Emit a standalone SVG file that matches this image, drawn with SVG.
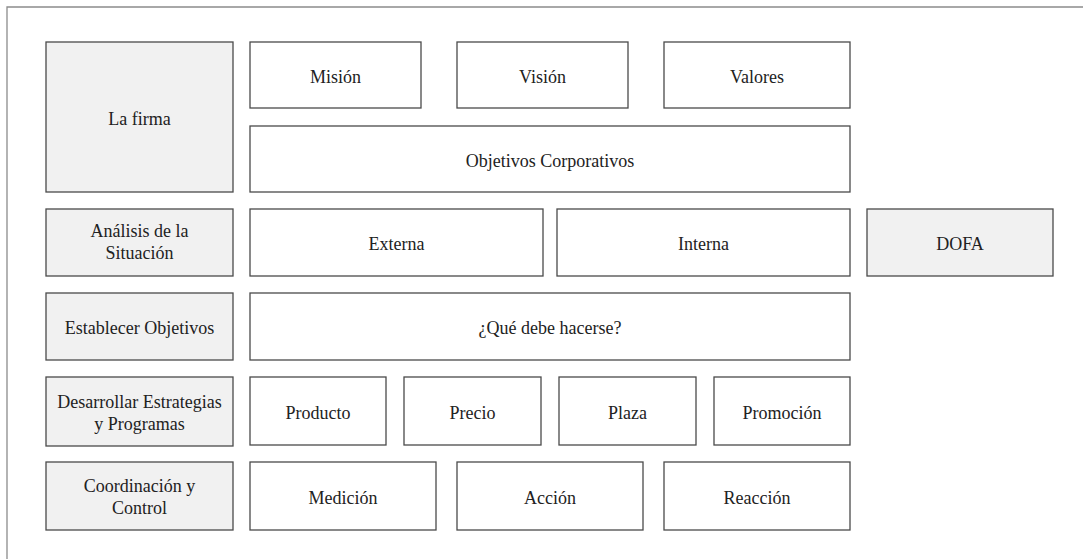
<svg xmlns="http://www.w3.org/2000/svg" width="1083" height="559" viewBox="0 0 1083 559">
  <style>
    .frame { fill: none; stroke: #8c8c8c; stroke-width: 1.3; }
    .box { fill: #ffffff; stroke: #4a4a4a; stroke-width: 1.3; }
    .stage { fill: #f1f1f1; stroke: #4a4a4a; stroke-width: 1.3; }
  </style>
  <rect width="1083" height="559" fill="#ffffff"/>
  <!-- page frame (top and left edges) -->
  <path class="frame" d="M7,559 L7,7 L1083,7"/>

  <g font-family="'Liberation Serif', 'Times New Roman', serif" font-size="18" fill="#222222" text-anchor="middle">
  <!-- stages column -->
  <g id="la-firma"><rect class="stage" x="46" y="42" width="187" height="150"/><text x="139.5" y="124.5">La firma</text></g>
  <g id="analisis"><rect class="stage" x="46" y="209" width="187" height="67"/><text x="139.5" y="237">Análisis de la</text><text x="139.5" y="259">Situación</text></g>
  <g id="establecer"><rect class="stage" x="46" y="293" width="187" height="67"/><text x="139.5" y="333.5">Establecer Objetivos</text></g>
  <g id="desarrollar"><rect class="stage" x="46" y="377" width="187" height="69"/><text x="139.5" y="408">Desarrollar Estrategias</text><text x="139.5" y="430">y Programas</text></g>
  <g id="coordinacion"><rect class="stage" x="46" y="462" width="187" height="68"/><text x="139.5" y="492">Coordinación y</text><text x="139.5" y="514">Control</text></g>

  <!-- la firma -->
  <g id="mision"><rect class="box" x="250" y="42" width="171" height="66"/><text x="335.5" y="82.5">Misión</text></g>
  <g id="vision"><rect class="box" x="457" y="42" width="171" height="66"/><text x="542.5" y="82.5">Visión</text></g>
  <g id="valores"><rect class="box" x="664" y="42" width="186" height="66"/><text x="757" y="82.5">Valores</text></g>
  <g id="objetivos-corporativos"><rect class="box" x="250" y="126" width="600" height="66"/><text x="550" y="166.5">Objetivos Corporativos</text></g>

  <!-- analisis de la situacion -->
  <g id="externa"><rect class="box" x="250" y="209" width="293" height="67"/><text x="396.5" y="249.5">Externa</text></g>
  <g id="interna"><rect class="box" x="557" y="209" width="293" height="67"/><text x="703.5" y="249.5">Interna</text></g>
  <g id="dofa"><rect class="stage" x="867" y="209" width="186" height="67"/><text x="960" y="249.5">DOFA</text></g>

  <!-- objetivos -->
  <g id="que-debe-hacerse"><rect class="box" x="250" y="293" width="600" height="67"/><text x="550" y="333.5">¿Qué debe hacerse?</text></g>

  <!-- marketing mix -->
  <g id="producto"><rect class="box" x="250" y="377" width="136" height="68"/><text x="318" y="418.5">Producto</text></g>
  <g id="precio"><rect class="box" x="404" y="377" width="137" height="68"/><text x="472.5" y="418.5">Precio</text></g>
  <g id="plaza"><rect class="box" x="559" y="377" width="137" height="68"/><text x="627.5" y="418.5">Plaza</text></g>
  <g id="promocion"><rect class="box" x="714" y="377" width="136" height="68"/><text x="782" y="418.5">Promoción</text></g>

  <!-- coordinacion y control -->
  <g id="medicion"><rect class="box" x="250" y="462" width="186" height="68"/><text x="343" y="503.5">Medición</text></g>
  <g id="accion"><rect class="box" x="457" y="462" width="186" height="68"/><text x="550" y="503.5">Acción</text></g>
  <g id="reaccion"><rect class="box" x="664" y="462" width="186" height="68"/><text x="757" y="503.5">Reacción</text></g>
  </g>

  <g id="connectors"/>
</svg>
